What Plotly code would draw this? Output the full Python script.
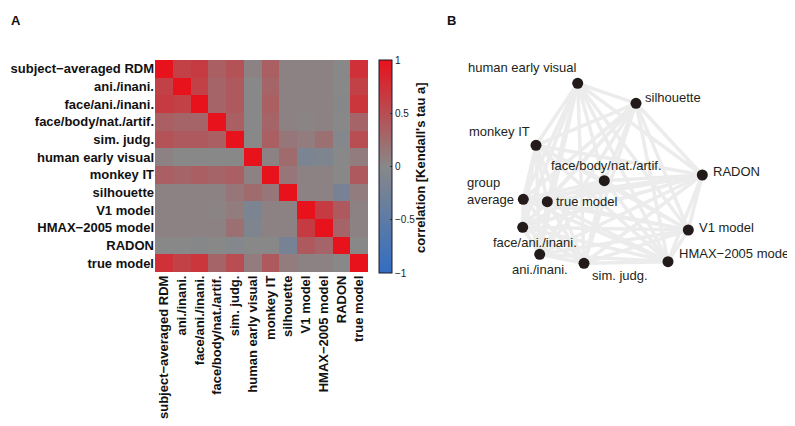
import plotly.graph_objects as go

labels = ["subject−averaged RDM", "ani./inani.", "face/ani./inani.", "face/body/nat./artif.",
          "sim. judg.", "human early visual", "monkey IT", "silhouette", "V1 model",
          "HMAX−2005 model", "RADON", "true model"]

corr = [
    [1.00, 0.60, 0.65, 0.35, 0.45, 0.05, 0.35, 0.05, 0.05, 0.05, 0.00, 0.75],
    [0.60, 1.00, 0.60, 0.30, 0.40, 0.00, 0.30, 0.05, 0.05, 0.05, 0.00, 0.60],
    [0.65, 0.60, 1.00, 0.30, 0.40, 0.00, 0.35, 0.05, 0.05, 0.05, -0.02, 0.70],
    [0.35, 0.30, 0.30, 1.00, 0.35, 0.00, 0.30, 0.05, 0.03, 0.05, 0.00, 0.30],
    [0.45, 0.40, 0.40, 0.35, 1.00, 0.00, 0.35, 0.15, 0.10, 0.20, -0.05, 0.50],
    [0.05, 0.00, 0.00, 0.00, 0.00, 1.00, 0.05, 0.25, -0.15, -0.10, 0.00, 0.10],
    [0.35, 0.30, 0.35, 0.30, 0.35, 0.05, 1.00, 0.15, 0.05, 0.05, 0.00, 0.40],
    [0.05, 0.05, 0.05, 0.05, 0.15, 0.25, 0.15, 1.00, 0.05, 0.05, -0.20, 0.10],
    [0.05, 0.05, 0.05, 0.03, 0.10, -0.15, 0.05, 0.05, 1.00, 0.65, 0.40, 0.05],
    [0.05, 0.05, 0.05, 0.05, 0.20, -0.10, 0.05, 0.05, 0.65, 1.00, 0.30, 0.05],
    [0.00, 0.00, -0.02, 0.00, -0.05, 0.00, 0.00, -0.20, 0.40, 0.30, 1.00, 0.00],
    [0.75, 0.60, 0.70, 0.30, 0.50, 0.10, 0.40, 0.10, 0.05, 0.05, 0.00, 1.00],
]

cbar_ticks = [-1, -0.5, 0, 0.5, 1]
cbar_ticktext = ["−1", "−0.5", "0", "0.5", "1"]

# Panel B: MDS arrangement
mds_names = ["human early visual", "silhouette", "monkey IT", "face/body/nat./artif.", "RADON",
             "group<br>average", "true model", "face/ani./inani.", "V1 model", "ani./inani.",
             "sim. judg.", "HMAX−2005 model"]
mds_x = [577.7, 636.0, 536.0, 604.3, 702.3, 523.3, 547.3, 522.7, 688.3, 539.7, 584.0, 668.0]
mds_y = [83.3, 103.3, 145.3, 180.7, 175.0, 199.3, 201.7, 227.3, 230.0, 254.3, 263.3, 261.7]

# label placement (styling): xanchor, yanchor, dx, dy in pixels
label_style = [
    ("right", "bottom", 0, -6),
    ("left", "middle", 7, -6),
    ("right", "bottom", -4, -4),
    ("center", "bottom", 2, -6),
    ("left", "middle", 9, -4),
    ("right", "middle", -7, -8),
    ("left", "middle", 7, 0),
    ("center", "top", 12, 6),
    ("left", "middle", 9, -3),
    ("center", "top", 0, 6),
    ("left", "top", 6, 3),
    ("left", "middle", 9, -8),
]

colorscale = [[0.0, "rgb(50,110,195)"], [0.5, "rgb(136,136,136)"], [1.0, "rgb(232,18,28)"]]

# page offset (browser body margin) and figure size
OFF = 8
W, H = 795 - OFF, 426 - OFF


def fx(px):
    return (px - OFF) / W


def fy(py):
    return 1 - (py - OFF) / H


fig = go.Figure()

fig.add_trace(go.Heatmap(
    z=corr, x=labels, y=labels, zmin=-1, zmax=1, colorscale=colorscale,
    xaxis="x", yaxis="y",
    colorbar=dict(
        thickness=13, len=(273 - 60) / H, lenmode="fraction", x=fx(379), xanchor="left",
        xpad=0, ypad=0,
        y=fy(60), yanchor="top", outlinecolor="#1a1a2e", outlinewidth=1,
        tickvals=cbar_ticks, ticktext=cbar_ticktext,
        ticks="inside", ticklen=2, tickcolor="#333",
        tickfont=dict(family="Liberation Sans, Arial", size=10, color="#222"),
    ),
))

# edges
ex, ey = [], []
n = len(mds_x)
for i in range(n):
    for j in range(i + 1, n):
        ex += [mds_x[i], mds_x[j], None]
        ey += [mds_y[i], mds_y[j], None]
fig.add_trace(go.Scatter(x=ex, y=ey, mode="lines", xaxis="x2", yaxis="y2",
                         line=dict(color="rgb(236,236,236)", width=3.5), hoverinfo="skip",
                         showlegend=False))
fig.add_trace(go.Scatter(x=mds_x, y=mds_y, mode="markers", xaxis="x2", yaxis="y2",
                         marker=dict(size=11, color="#231a1a"), showlegend=False))

annotations = []
for name, x, y, (xa, ya, dx, dy) in zip(mds_names, mds_x, mds_y, label_style):
    annotations.append(dict(x=x, y=y, xref="x2", yref="y2", text=name, showarrow=False,
                            xanchor=xa, yanchor=ya, xshift=dx, yshift=-dy, align="left",
                            font=dict(family="Liberation Sans, Arial", size=13, color="#231f20")))
annotations.append(dict(x=fx(9), y=fy(21), xref="paper", yref="paper", text="<b>A</b>",
                        showarrow=False, xanchor="left", yanchor="middle",
                        font=dict(family="Liberation Sans, Arial", size=13, color="#111")))
annotations.append(dict(x=fx(451), y=fy(21), xref="paper", yref="paper", text="<b>B</b>",
                        showarrow=False, xanchor="center", yanchor="middle",
                        font=dict(family="Liberation Sans, Arial", size=13, color="#111")))
annotations.append(dict(x=fx(420), y=fy(168), xref="paper", yref="paper",
                        text="<b>correlation [Kendall's tau a]</b>", textangle=-90,
                        showarrow=False, xanchor="center", yanchor="middle",
                        font=dict(family="Liberation Sans, Arial", size=13, color="#111")))

tickfont = dict(family="Liberation Sans, Arial", size=13, color="#111")
fig.update_layout(
    width=W, height=H, margin=dict(l=0, r=0, t=0, b=0),
    paper_bgcolor="white", plot_bgcolor="white",
    xaxis=dict(domain=[fx(155), fx(368)], tickangle=-90, showgrid=False, zeroline=False,
               ticks="", tickfont=tickfont, showline=False,
               tickvals=labels, ticktext=["<b>%s</b>" % s for s in labels]),
    yaxis=dict(domain=[fy(272), fy(60)], autorange="reversed", showgrid=False,
               zeroline=False, ticks="", tickfont=tickfont,
               tickvals=labels, ticktext=["<b>%s</b>" % s for s in labels]),
    xaxis2=dict(domain=[fx(437), 1], range=[437, 795], visible=False, anchor="y2"),
    yaxis2=dict(domain=[0, 1], range=[426, OFF], visible=False, anchor="x2"),
    annotations=annotations,
)

fig.write_html("out.html")
